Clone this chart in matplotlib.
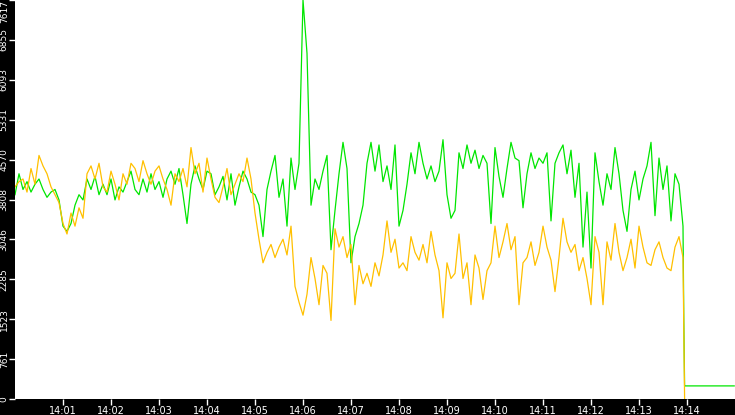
import matplotlib
matplotlib.use('Agg')
import matplotlib.pyplot as plt
import numpy as np

# samples every 5 s starting at 14:00:00
step_s = 5
green = [3900, 4300, 4000, 4150, 3950, 4100, 4200, 4000, 3850, 3950,
         4000, 3800, 3300, 3200, 3350, 3700, 3900, 3800, 4200, 4000,
         4250, 3900, 4100, 3900, 4200, 3800, 4050, 3950, 4150, 4350,
         4000, 3900, 4200, 3950, 4300, 4000, 4150, 3850, 4200, 4350,
         4100, 4400, 3900, 3350, 4100, 4450, 4200, 4000, 4350, 4300,
         3900, 4050, 4250, 3800, 4300, 3700, 4050, 4350, 4200, 3950,
         3900, 3700, 3100, 4000, 4350, 4650, 3850, 4200, 3300, 4600,
         4000, 4500, 7617, 6600, 3700, 4200, 4000, 4350, 4650, 2850,
         3600, 4300, 4900, 4400, 2600, 3100, 3350, 3700, 4500, 4900,
         4350, 4850, 4150, 4450, 4000, 4850, 3300, 3600, 4100, 4700,
         4300, 4900, 4500, 4200, 4450, 4150, 4350, 4950, 3900, 3450,
         3600, 4700, 4400, 4850, 4500, 4750, 4400, 4650, 4500, 3350,
         4800, 4250, 3850, 4400, 4900, 4600, 4550, 3650, 4300, 4700,
         4400, 4600, 4500, 4700, 3400, 4500, 4700, 4850, 4300, 4750,
         3850, 4500, 2900, 3950, 2500, 4700, 4150, 3700, 4300, 4000,
         4800, 4300, 3600, 3200, 4000, 4350, 3800, 4200, 4450, 4900,
         3500, 4600, 4000, 4450, 3400, 4300, 4100]
orange = [4050, 4150, 4200, 3950, 4400, 4100, 4650, 4450, 4300, 4050,
          3900, 3750, 3350, 3150, 3550, 3300, 3650, 3450, 4300, 4450,
          4200, 4500, 4050, 3950, 4350, 4100, 3800, 4300, 4100, 4500,
          4400, 4150, 4550, 4300, 4100, 4350, 4450, 4200, 4000, 3700,
          4300, 4150, 4400, 4050, 4800, 4300, 4500, 3950, 4600, 4200,
          3850, 3750, 4050, 4400, 3900, 4100, 4300, 4150, 4600, 4200,
          3550, 3050, 2600, 2800, 2950, 2700, 2900, 3050, 2750, 3300,
          2150, 1850, 1600, 2000, 2700, 2300, 1800, 2550, 2400, 1500,
          3250, 2900, 3100, 2700, 2950, 1800, 2550, 2200, 2400, 2150,
          2600, 2350, 2750, 3400, 2800, 3050, 2500, 2600, 2450, 3100,
          2800, 2650, 2950, 2600, 3200, 2750, 2450, 1550, 2600, 2300,
          2400, 3150, 2300, 2600, 1800, 2750, 2500, 1900, 2450, 2600,
          3300, 2700, 3000, 3350, 2850, 3100, 1800, 2600, 2700, 3000,
          2550, 2800, 3300, 2900, 2650, 2050, 2700, 3450, 3000, 2800,
          2950, 2450, 2700, 2300, 1800, 3100, 2800, 1800, 3000, 2650,
          3350, 2800, 2450, 2700, 3050, 2500, 3300, 2900, 2600, 2550,
          2850, 3000, 2700, 2500, 2450, 2900, 3100]
# final drop around 14:14
green_tail_t = [835, 836, 837, 899]
green_tail = [3300, 1500, 250, 250]
orange_tail_t = [835, 836, 837]
orange_tail = [2700, 1400, 0]

tick_labels = ['14:%02d' % m for m in range(1, 15)]
ymax = 7617
ytick_vals = [0, 761, 1523, 2285, 3046, 3808, 4570, 5331, 6093, 6855, 7617]

t_green = np.concatenate([np.arange(len(green)) * step_s, green_tail_t])
y_green = green + green_tail
t_orange = np.concatenate([np.arange(len(orange)) * step_s, orange_tail_t])
y_orange = orange + orange_tail

fig = plt.figure(figsize=(7.35, 4.15), dpi=100, facecolor='black')
ax = fig.add_axes([15 / 735, 16 / 415, 720 / 735, 399 / 415])
ax.set_facecolor('white')

ax.plot(t_green, y_green, color='#00e600', lw=0.9)
ax.plot(t_orange, y_orange, color='#ffc000', lw=0.9)

ax.set_xlim(0, 900)
ax.set_ylim(0, ymax)
for s in ax.spines.values():
    s.set_visible(False)

ax.set_xticks([60 * m for m in range(1, 15)])
ax.set_xticklabels(tick_labels)
ax.set_yticks(ytick_vals)
ax.set_yticklabels([str(v) for v in ytick_vals], rotation=90, va='center')
ax.tick_params(colors='white', labelsize=7, length=4, width=1, pad=1)
ax.tick_params(axis='y', length=4, pad=0.5, labelsize=6.5)
ax.get_yticklabels()[-1].set_va('top')

fig.savefig('out.png', dpi=100, facecolor='black')
